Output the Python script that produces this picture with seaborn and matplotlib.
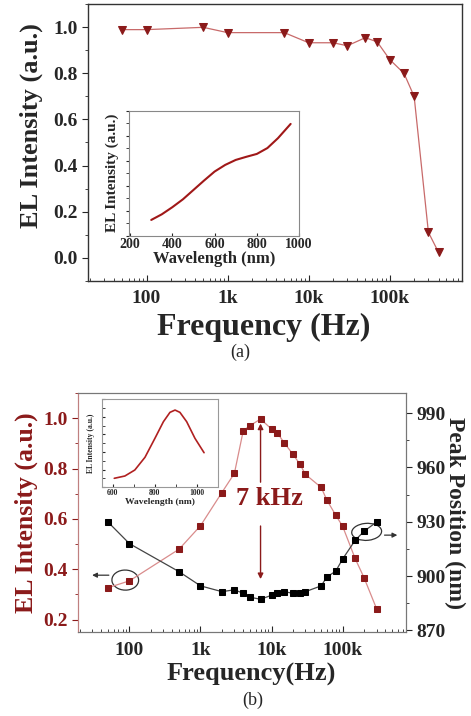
import numpy as np
import matplotlib
matplotlib.use('Agg')
import matplotlib.pyplot as plt
import matplotlib.ticker as mticker
from matplotlib.patches import Ellipse
import seaborn as sns

# ---- data, panel (a) ----
freq_a = [50, 100, 500, 1e3, 5e3, 1e4, 2e4, 3e4, 5e4, 7e4, 1e5, 1.5e5, 2e5, 3e5, 4e5]
el_a = [0.99, 0.99, 1.0, 0.977, 0.977, 0.933, 0.933, 0.92, 0.955, 0.937,
        0.86, 0.80, 0.70, 0.11, 0.023]
wl_a = [300, 350, 400, 450, 500, 550, 600, 650, 700, 750, 800, 850, 900, 960]
spec_a = [0.125, 0.17, 0.227, 0.29, 0.365, 0.44, 0.512, 0.565, 0.605, 0.63,
          0.653, 0.70, 0.779, 0.893]

# ---- data, panel (b) ----
freq_b = [50, 100, 500, 1e3, 2e3, 3e3, 4e3, 5e3, 7e3, 1e4, 1.2e4, 1.5e4, 2e4,
          2.5e4, 3e4, 5e4, 6e4, 8e4, 1e5, 1.5e5, 2e5, 3e5]
el_b = [0.327, 0.354, 0.480, 0.573, 0.705, 0.781, 0.951, 0.971, 0.997, 0.957,
        0.943, 0.903, 0.857, 0.818, 0.777, 0.725, 0.675, 0.615, 0.571, 0.443,
        0.367, 0.244]
peak_b = [929.8, 917.9, 902.4, 894.6, 891.4, 892.4, 890.5, 888.3, 887.2, 889.4,
          890.5, 891.4, 890.5, 890.5, 891.4, 894.6, 899.5, 902.7, 909.4, 919.7,
          924.7, 929.8]
wl_b = [608, 658, 705, 753, 800, 840, 871, 895, 918, 950, 989, 1032]
spec_b = [0.102, 0.128, 0.196, 0.34, 0.555, 0.743, 0.849, 0.875, 0.849, 0.743,
          0.555, 0.392]

freq_ticks = [100, 1e3, 1e4, 1e5]
freq_labels = ['100', '1k', '10k', '100k']

sns.set_style('ticks')
plt.rcParams['font.family'] = ['Liberation Serif', 'DejaVu Serif']
plt.rcParams['font.weight'] = 'bold'
plt.rcParams['axes.labelweight'] = 'bold'

dred = '#8B1A1A'
lred = '#D98C8C'


def freq_axis(ax, size):
    ax.set_xscale('log')
    ax.set_xlim(19, 7.8e5)
    ax.xaxis.set_major_locator(mticker.FixedLocator(freq_ticks))
    ax.xaxis.set_major_formatter(mticker.FixedFormatter(freq_labels))
    ax.xaxis.set_minor_locator(mticker.LogLocator(base=10, subs=np.arange(2, 10)))
    ax.xaxis.set_minor_formatter(mticker.NullFormatter())
    ax.tick_params(axis='x', which='major', direction='in', length=4, labelsize=size, pad=7)
    ax.tick_params(axis='x', which='minor', direction='in', length=2)


fig = plt.figure(figsize=(4.71, 7.16), dpi=100)

# ---------------- panel (a) ----------------
ax1 = fig.add_axes([0.187, 0.608, 0.794, 0.386])
sns.lineplot(x=freq_a, y=el_a, ax=ax1, color='#C86A6A', lw=0.9, marker='v',
             markersize=6, markerfacecolor=dred, markeredgecolor=dred)
freq_axis(ax1, 14)
ax1.set_ylim(-0.1, 1.1)
ax1.yaxis.set_major_locator(mticker.MultipleLocator(0.2))
ax1.yaxis.set_minor_locator(mticker.MultipleLocator(0.1))
ax1.yaxis.set_major_formatter(mticker.FormatStrFormatter('%.1f'))
ax1.tick_params(axis='y', which='major', direction='out', length=4, labelsize=14)
ax1.tick_params(axis='y', which='minor', direction='out', length=2)
ax1.set_xlabel('Frequency (Hz)', fontsize=23, labelpad=0)
ax1.xaxis.set_label_coords(0.47, -0.115)
ax1.set_ylabel('EL Intensity (a.u.)', fontsize=19, labelpad=6)
ax1.yaxis.set_label_coords(-0.12, 0.563)
for s in ax1.spines.values():
    s.set_color('#333333')
    s.set_linewidth(1.0)

ins1 = fig.add_axes([0.274, 0.671, 0.361, 0.1746])
sns.lineplot(x=wl_a, y=spec_a, ax=ins1, color='#A01818', lw=1.5)
ins1.set_xlim(195, 1000)
ins1.set_ylim(0, 1)
ins1.xaxis.set_major_locator(mticker.MultipleLocator(200))
ins1.yaxis.set_major_locator(mticker.MultipleLocator(0.2))
ins1.yaxis.set_minor_locator(mticker.MultipleLocator(0.1))
ins1.yaxis.set_major_formatter(mticker.NullFormatter())
ins1.tick_params(axis='x', direction='in', length=2, labelsize=10, pad=2)
ins1.tick_params(axis='y', which='both', direction='out', length=2)
ins1.set_xlabel('Wavelength (nm)', fontsize=12, labelpad=0)
ins1.set_ylabel('EL Intensity (a.u.)', fontsize=11, labelpad=2)
for s in ins1.spines.values():
    s.set_color('#888888')

fig.text(0.51, 0.508, '(a)', ha='center', va='center', fontsize=13, fontweight='normal')

# ---------------- panel (b) ----------------
ax2 = fig.add_axes([0.166, 0.117, 0.696, 0.334])
ax2r = ax2.twinx()
sns.lineplot(x=freq_b, y=el_b, ax=ax2, color=lred, lw=0.9, marker='s',
             markersize=4.2, markerfacecolor=dred, markeredgecolor=dred)
sns.lineplot(x=freq_b, y=peak_b, ax=ax2r, color='#444444', lw=0.9, marker='s',
             markersize=4.2, markerfacecolor='black', markeredgecolor='black')
freq_axis(ax2, 14)
ax2.set_ylim(0.15, 1.1)
ax2.yaxis.set_major_locator(mticker.MultipleLocator(0.2))
ax2.yaxis.set_minor_locator(mticker.MultipleLocator(0.1))
ax2.yaxis.set_major_formatter(mticker.FormatStrFormatter('%.1f'))
ax2.tick_params(axis='y', which='major', direction='out', length=4, labelsize=14,
                colors=dred)
ax2.tick_params(axis='y', which='minor', direction='out', length=2, colors=dred)
ax2r.set_ylim(869, 1001)
ax2r.yaxis.set_major_locator(mticker.MultipleLocator(30))
ax2r.yaxis.set_minor_locator(mticker.MultipleLocator(15))
ax2r.tick_params(axis='y', which='major', direction='out', length=4, labelsize=14)
ax2r.tick_params(axis='y', which='minor', direction='out', length=2)
ax2.set_xlabel('Frequency(Hz)', fontsize=19, labelpad=0)
ax2.xaxis.set_label_coords(0.527, -0.13)
ax2.set_ylabel('EL Intensity (a.u.)', fontsize=18.5, color=dred, labelpad=4)
ax2r.set_ylabel('Peak Position (nm)', fontsize=17, rotation=270, labelpad=14)
for a in (ax2, ax2r):
    for s in a.spines.values():
        s.set_color('#777777')
ax2.spines['left'].set_color('#C08080')
ax2r.spines['left'].set_color('#C08080')

# 7 kHz annotation
ax2.text(9.3e3, 0.683, '7 kHz', color=dred, fontsize=19, ha='center', va='center')
ax2.annotate('', xy=(7e3, 0.99), xytext=(7e3, 0.735),
             arrowprops=dict(arrowstyle='-|>', color=dred, lw=1.0, mutation_scale=8))
ax2.annotate('', xy=(7e3, 0.35), xytext=(7e3, 0.583),
             arrowprops=dict(arrowstyle='-|>', color=dred, lw=1.0, mutation_scale=8))

# ellipses with arrows pointing to their axes
ax2.add_patch(Ellipse((0.1436, 0.218), 0.0814, 0.084, angle=10,
                      transform=ax2.transAxes, fill=False, ec='#333333', lw=0.9))
ax2.annotate('', xy=(0.034, 0.2385), xytext=(0.102, 0.2385), xycoords='axes fraction',
             arrowprops=dict(arrowstyle='-|>', color='#333333', lw=0.9, mutation_scale=7))
ax2.add_patch(Ellipse((0.880, 0.4197), 0.0915, 0.071, angle=8,
                      transform=ax2.transAxes, fill=False, ec='#333333', lw=0.9))
ax2.annotate('', xy=(0.982, 0.406), xytext=(0.926, 0.406), xycoords='axes fraction',
             arrowprops=dict(arrowstyle='-|>', color='#333333', lw=0.9, mutation_scale=7))

ins2 = fig.add_axes([0.217, 0.3194, 0.245, 0.1233])
sns.lineplot(x=wl_b, y=spec_b, ax=ins2, color='#B02020', lw=1.2)
ins2.set_xlim(551, 1096)
ins2.set_ylim(0, 1)
ins2.xaxis.set_major_locator(mticker.MultipleLocator(200))
ins2.xaxis.set_minor_locator(mticker.MultipleLocator(100))
ins2.yaxis.set_major_locator(mticker.MultipleLocator(0.2))
ins2.yaxis.set_minor_locator(mticker.MultipleLocator(0.1))
ins2.yaxis.set_major_formatter(mticker.NullFormatter())
ins2.tick_params(axis='x', which='both', direction='in', length=2, labelsize=5.5, pad=1.5)
ins2.tick_params(axis='y', which='both', direction='in', length=2)
ins2.set_xlabel('Wavelength (nm)', fontsize=6.8, labelpad=0.5)
ins2.set_ylabel('EL Intensity (a.u.)', fontsize=5.5, labelpad=2)
for s in ins2.spines.values():
    s.set_color('#999999')

fig.text(0.537, 0.022, '(b)', ha='center', va='center', fontsize=13, fontweight='normal')

fig.savefig('out.png', dpi=100)
